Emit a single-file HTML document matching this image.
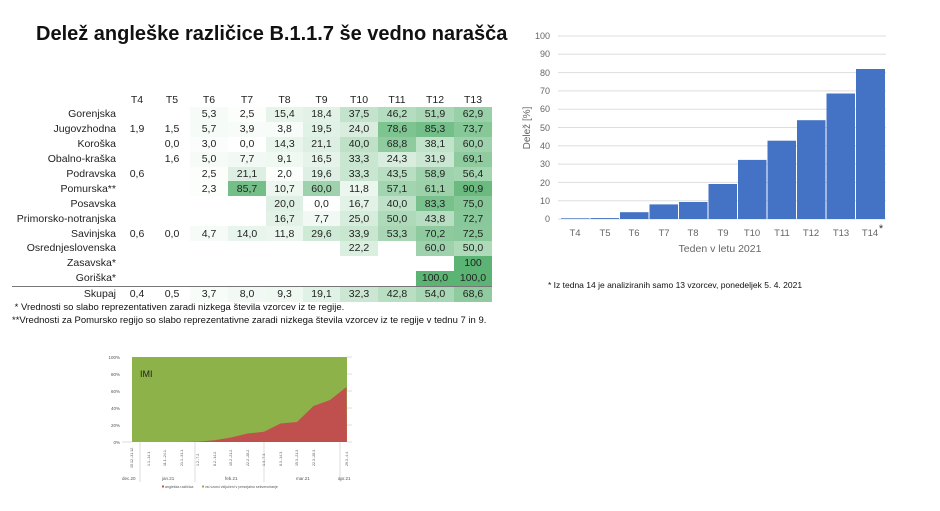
<!DOCTYPE html>
<html><head><meta charset="utf-8"><style>
body{margin:0;width:940px;height:511px;background:#fff;position:relative;overflow:hidden;font-family:"Liberation Sans",sans-serif;}
.t{position:absolute;left:36px;top:23px;font-size:20px;font-weight:bold;color:#111;white-space:nowrap;}
table{position:absolute;left:12px;top:92px;border-collapse:collapse;font-size:10.5px;color:#222;}
td{height:14.9px;padding:0;text-align:center;}
td.l{text-align:right;padding-right:4px;width:104px;}
td.c{background:color-mix(in srgb,#5cb474 var(--v),#fff);}
tr.h td{height:15px;}
tr.s td{border-top:1.5px solid #777;height:15px;}
.n{position:absolute;font-size:9.5px;color:#111;white-space:nowrap;}
</style></head><body>
<div class="t">Delež angleške različice B.1.1.7 še vedno narašča</div>
<table>
<colgroup><col style="width:108px"><col style="width:34px"><col style="width:36px"><col style="width:38px"><col style="width:38px"><col style="width:37px"><col style="width:37px"><col style="width:38px"><col style="width:38px"><col style="width:38px"><col style="width:38px"></colgroup>
<tr class="h"><td></td><td>T4</td><td>T5</td><td>T6</td><td>T7</td><td>T8</td><td>T9</td><td>T10</td><td>T11</td><td>T12</td><td>T13</td></tr>
<tr><td class="l">Gorenjska</td><td></td><td></td><td class="c" style="--v:5%">5,3</td><td class="c" style="--v:2%">2,5</td><td class="c" style="--v:15%">15,4</td><td class="c" style="--v:18%">18,4</td><td class="c" style="--v:37%">37,5</td><td class="c" style="--v:46%">46,2</td><td class="c" style="--v:52%">51,9</td><td class="c" style="--v:63%">62,9</td></tr>
<tr><td class="l">Jugovzhodna</td><td>1,9</td><td>1,5</td><td class="c" style="--v:6%">5,7</td><td class="c" style="--v:4%">3,9</td><td class="c" style="--v:4%">3,8</td><td class="c" style="--v:19%">19,5</td><td class="c" style="--v:24%">24,0</td><td class="c" style="--v:79%">78,6</td><td class="c" style="--v:85%">85,3</td><td class="c" style="--v:74%">73,7</td></tr>
<tr><td class="l">Koroška</td><td></td><td>0,0</td><td class="c" style="--v:3%">3,0</td><td class="c" style="--v:0%">0,0</td><td class="c" style="--v:14%">14,3</td><td class="c" style="--v:21%">21,1</td><td class="c" style="--v:40%">40,0</td><td class="c" style="--v:69%">68,8</td><td class="c" style="--v:38%">38,1</td><td class="c" style="--v:60%">60,0</td></tr>
<tr><td class="l">Obalno-kraška</td><td></td><td>1,6</td><td class="c" style="--v:5%">5,0</td><td class="c" style="--v:8%">7,7</td><td class="c" style="--v:9%">9,1</td><td class="c" style="--v:16%">16,5</td><td class="c" style="--v:33%">33,3</td><td class="c" style="--v:24%">24,3</td><td class="c" style="--v:32%">31,9</td><td class="c" style="--v:69%">69,1</td></tr>
<tr><td class="l">Podravska</td><td>0,6</td><td></td><td class="c" style="--v:2%">2,5</td><td class="c" style="--v:21%">21,1</td><td class="c" style="--v:2%">2,0</td><td class="c" style="--v:20%">19,6</td><td class="c" style="--v:33%">33,3</td><td class="c" style="--v:43%">43,5</td><td class="c" style="--v:59%">58,9</td><td class="c" style="--v:56%">56,4</td></tr>
<tr><td class="l">Pomurska**</td><td></td><td></td><td class="c" style="--v:2%">2,3</td><td class="c" style="--v:86%">85,7</td><td class="c" style="--v:11%">10,7</td><td class="c" style="--v:60%">60,0</td><td class="c" style="--v:12%">11,8</td><td class="c" style="--v:57%">57,1</td><td class="c" style="--v:61%">61,1</td><td class="c" style="--v:91%">90,9</td></tr>
<tr><td class="l">Posavska</td><td></td><td></td><td></td><td></td><td class="c" style="--v:20%">20,0</td><td class="c" style="--v:0%">0,0</td><td class="c" style="--v:17%">16,7</td><td class="c" style="--v:40%">40,0</td><td class="c" style="--v:83%">83,3</td><td class="c" style="--v:75%">75,0</td></tr>
<tr><td class="l">Primorsko-notranjska</td><td></td><td></td><td></td><td></td><td class="c" style="--v:17%">16,7</td><td class="c" style="--v:8%">7,7</td><td class="c" style="--v:25%">25,0</td><td class="c" style="--v:50%">50,0</td><td class="c" style="--v:44%">43,8</td><td class="c" style="--v:73%">72,7</td></tr>
<tr><td class="l">Savinjska</td><td>0,6</td><td>0,0</td><td class="c" style="--v:5%">4,7</td><td class="c" style="--v:14%">14,0</td><td class="c" style="--v:12%">11,8</td><td class="c" style="--v:30%">29,6</td><td class="c" style="--v:34%">33,9</td><td class="c" style="--v:53%">53,3</td><td class="c" style="--v:70%">70,2</td><td class="c" style="--v:72%">72,5</td></tr>
<tr><td class="l">Osrednjeslovenska</td><td></td><td></td><td></td><td></td><td></td><td></td><td class="c" style="--v:22%">22,2</td><td></td><td class="c" style="--v:60%">60,0</td><td class="c" style="--v:50%">50,0</td></tr>
<tr><td class="l">Zasavska*</td><td></td><td></td><td></td><td></td><td></td><td></td><td></td><td></td><td></td><td class="c" style="--v:100%">100</td></tr>
<tr><td class="l">Goriška*</td><td></td><td></td><td></td><td></td><td></td><td></td><td></td><td></td><td class="c" style="--v:100%">100,0</td><td class="c" style="--v:100%">100,0</td></tr>
<tr class="s"><td class="l">Skupaj</td><td>0,4</td><td>0,5</td><td class="c" style="--v:4%">3,7</td><td class="c" style="--v:8%">8,0</td><td class="c" style="--v:9%">9,3</td><td class="c" style="--v:19%">19,1</td><td class="c" style="--v:32%">32,3</td><td class="c" style="--v:43%">42,8</td><td class="c" style="--v:54%">54,0</td><td class="c" style="--v:69%">68,6</td></tr>
</table>
<div class="n" style="left:12px;top:302px">&nbsp;* Vrednosti so slabo reprezentativen zaradi nizkega števila vzorcev iz te regije.</div>
<div class="n" style="left:12px;top:315px">**Vrednosti za Pomursko regijo so slabo reprezentativne zaradi nizkega števila vzorcev iz te regije v tednu 7 in 9.</div>

<svg style="position:absolute;left:0;top:0" width="940" height="511">
<g font-family="Liberation Sans,sans-serif" font-size="9" fill="#666" text-anchor="end">
<g stroke="#ddd" stroke-width="1">
<line x1="558" x2="886" y1="36" y2="36"/><line x1="558" x2="886" y1="54.3" y2="54.3"/><line x1="558" x2="886" y1="72.6" y2="72.6"/><line x1="558" x2="886" y1="90.9" y2="90.9"/><line x1="558" x2="886" y1="109.2" y2="109.2"/><line x1="558" x2="886" y1="127.5" y2="127.5"/><line x1="558" x2="886" y1="145.8" y2="145.8"/><line x1="558" x2="886" y1="164.1" y2="164.1"/><line x1="558" x2="886" y1="182.4" y2="182.4"/><line x1="558" x2="886" y1="200.7" y2="200.7"/><line x1="558" x2="886" y1="219" y2="219"/>
</g>
<text x="550" y="39">100</text><text x="550" y="57">90</text><text x="550" y="76">80</text><text x="550" y="94">70</text><text x="550" y="112">60</text><text x="550" y="131">50</text><text x="550" y="149">40</text><text x="550" y="167">30</text><text x="550" y="186">20</text><text x="550" y="204">10</text><text x="550" y="222">0</text>
</g>
<g fill="#4472c4">
<rect x="561" y="218.3" width="28.5" height="0.7"/><rect x="590.5" y="218.1" width="28.5" height="0.9"/><rect x="620" y="212.2" width="28.5" height="6.8"/><rect x="649.5" y="204.4" width="28.5" height="14.6"/><rect x="679" y="202" width="28.5" height="17"/><rect x="708.5" y="184" width="28.5" height="35"/><rect x="738" y="159.9" width="28.5" height="59.1"/><rect x="767.5" y="140.7" width="28.5" height="78.3"/><rect x="797" y="120.2" width="28.5" height="98.8"/><rect x="826.5" y="93.5" width="28.5" height="125.5"/><rect x="856" y="69" width="29" height="150"/>
</g>
<g font-family="Liberation Sans,sans-serif" font-size="9.5" fill="#666" text-anchor="middle">
<text x="575" y="236">T4</text><text x="605" y="236">T5</text><text x="634" y="236">T6</text><text x="664" y="236">T7</text><text x="693" y="236">T8</text><text x="723" y="236">T9</text><text x="752" y="236">T10</text><text x="782" y="236">T11</text><text x="811" y="236">T12</text><text x="841" y="236">T13</text><text x="870" y="236">T14</text><text x="881" y="232" font-size="11" fill="#333">*</text>
<text x="720" y="252" font-size="10.5">Teden  v letu 2021</text>
<text transform="translate(530,128) rotate(-90)" font-size="10">Delež [%]</text>
</g>
<text x="548" y="288" font-family="Liberation Sans,sans-serif" font-size="8.5" fill="#111">* Iz tedna 14 je analiziranih samo 13 vzorcev, ponedeljek 5. 4. 2021</text>

<g font-family="Liberation Sans,sans-serif" font-size="4.5" fill="#555" text-anchor="end">
<text x="120" y="359">100%</text><text x="120" y="376">80%</text><text x="120" y="393">60%</text><text x="120" y="410">40%</text><text x="120" y="427">20%</text><text x="120" y="444">0%</text>
</g>
<rect x="132" y="357" width="215" height="85" fill="#8db24a"/>
<polygon fill="#c0504d" points="132,442 148.5,442 165,442 181.5,442 198,441.6 214.5,440.3 231,437.5 247.5,433.5 264,431.8 280.5,423.5 297,422 313.5,406 330,400 346.5,387 347,442"/>
<g stroke="#bbb" stroke-width="0.5"><line x1="122" x2="132" y1="442" y2="442"/><line x1="347" x2="352" y1="357" y2="357"/><line x1="347" x2="352" y1="374" y2="374"/><line x1="347" x2="352" y1="391" y2="391"/><line x1="347" x2="352" y1="408" y2="408"/><line x1="347" x2="352" y1="425" y2="425"/><line x1="347" x2="352" y1="442" y2="442"/>
<line x1="140" x2="140" y1="442" y2="482"/><line x1="195" x2="195" y1="442" y2="482"/><line x1="264" x2="264" y1="442" y2="482"/><line x1="340" x2="340" y1="442" y2="482"/></g>
<text x="140" y="377" font-family="Liberation Sans,sans-serif" font-size="9" fill="#222">IMI</text>
<g font-family="Liberation Sans,sans-serif" font-size="3.6" fill="#555">
<text transform="translate(133,468) rotate(-90)">15.12.-31.12.</text><text transform="translate(150,466) rotate(-90)">1.1.-14.1.</text><text transform="translate(166,466) rotate(-90)">11.1.-24.1.</text><text transform="translate(183,466) rotate(-90)">21.1.-31.1.</text><text transform="translate(199,466) rotate(-90)">1.2.-7.2.</text><text transform="translate(216,466) rotate(-90)">8.2.-14.2.</text><text transform="translate(232,466) rotate(-90)">15.2.-21.2.</text><text transform="translate(249,466) rotate(-90)">22.2.-28.2.</text><text transform="translate(265,466) rotate(-90)">1.3.-7.3.</text><text transform="translate(282,466) rotate(-90)">8.3.-14.3.</text><text transform="translate(298,466) rotate(-90)">15.3.-21.3.</text><text transform="translate(315,466) rotate(-90)">22.3.-28.3.</text><text transform="translate(348,466) rotate(-90)">29.3.-4.4.</text>
<text x="122" y="480" font-size="4.5">dec.20</text><text x="162" y="480" font-size="4.5">jan.21</text><text x="225" y="480" font-size="4.5">feb.21</text><text x="296" y="480" font-size="4.5">mar.21</text><text x="338" y="480" font-size="4.5">apr.21</text>
<rect x="162" y="485.5" width="2" height="2" fill="#c0504d"/><text x="165" y="488">angleška različica</text>
<rect x="202" y="485.5" width="2" height="2" fill="#8db24a"/><text x="205" y="488">vsi vzorci vključeni v presejalno sekvenciranje</text>
</g>
</svg>
</body></html>
